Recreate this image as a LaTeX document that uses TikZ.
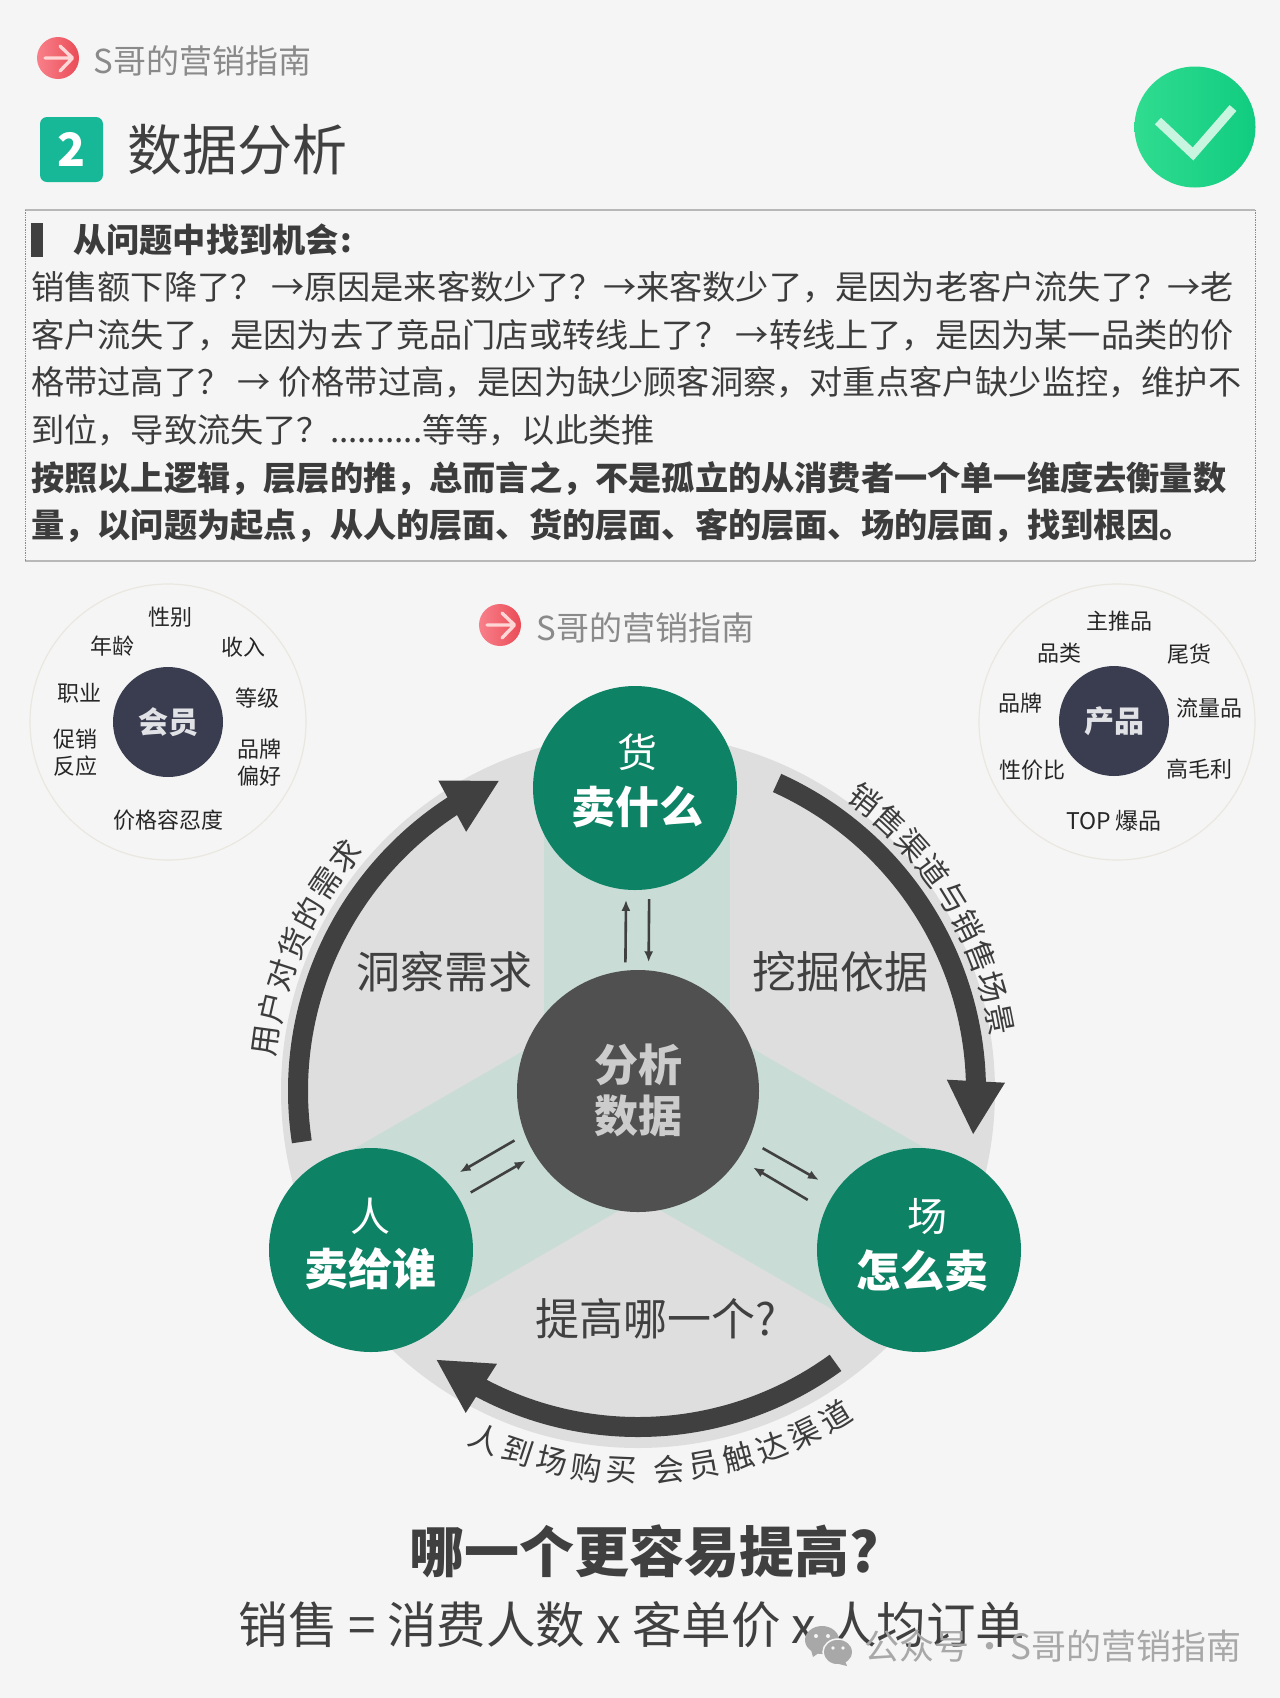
\documentclass[tikz,border=0pt]{standalone}
\usepackage{fontspec}
\setmainfont{Noto Sans CJK SC}
\usetikzlibrary{arrows.meta,calc,positioning,bending}
\definecolor{sgPaper}{HTML}{F5F5F5}
\definecolor{sgInk}{HTML}{3C3C3C}
\definecolor{sgDark}{HTML}{404040}
\definecolor{sgGreen}{HTML}{0D8265}
\definecolor{sgBand}{HTML}{C9DCD6}
\definecolor{sgDisc}{HTML}{DEDEDE}
\definecolor{sgHub}{HTML}{505050}
\definecolor{sgNavy}{HTML}{3A3D50}
\definecolor{sgRing}{HTML}{E9E7DF}
\definecolor{sgGrey}{HTML}{8A8A8A}
\definecolor{sgRedA}{HTML}{F8808A}
\definecolor{sgRedB}{HTML}{EA4C57}
\definecolor{sgPink}{HTML}{FFD6D6}
\definecolor{sgTile}{HTML}{17B897}
\definecolor{sgTickA}{HTML}{30DC90}
\definecolor{sgTickB}{HTML}{10CC80}
\definecolor{sgTickPen}{HTML}{C8F5E0}
\definecolor{sgMark}{HTML}{A8A8A8}
\newcommand{\fsz}[1]{\fontsize{#1}{#1}\selectfont}
\tikzset{
  logotext/.style={anchor=west,text=sgGrey,font=\fsz{33}},
  logodot/.style={circle,left color=sgRedA,right color=sgRedB,minimum size=42pt,inner sep=0pt},
  logopen/.style={draw=sgPink,line width=3.4pt,line cap=round,line join=round},
  bodyline/.style={anchor=west,text=sgInk,font=\fsz{33.2},inner sep=0pt},
  boldline/.style={anchor=west,text=sgInk,font=\bfseries\fsz{33.2},inner sep=0pt},
  bigdot/.style={circle,fill=sgGreen,minimum size=204pt,inner sep=0pt},
  dotthin/.style={text=white,font=\fsz{40},inner sep=0pt},
  dotbold/.style={text=white,font=\bfseries\fsz{44},inner sep=0pt},
  hubtext/.style={text=black!20,font=\bfseries\fsz{44},inner sep=0pt},
  graytag/.style={text=sgDark,font=\fsz{44},inner sep=0pt},
  ringtag/.style={text=black!85,font=\fontsize{22}{27}\selectfont,align=center,inner sep=0pt},
  ringhub/.style={circle,fill=sgNavy,minimum size=110pt,inner sep=0pt,text=white!85!sgNavy,font=\bfseries\fsz{30}},
  ringline/.style={draw=sgRing,line width=1.2pt},
  bigarc/.style={draw=sgDark,line width=20pt,-{Triangle[width=54pt,length=54pt,flex]}},
  pairarrow/.style={draw=sgDark,line width=2.6pt,-{Latex[length=11pt,width=9pt]}},
  arcchar/.style={text=sgInk,font=\fsz{31},inner sep=0pt},
  boxedge/.style={draw=black!28,line width=1.6pt},
  boxside/.style={draw=black!45,line width=.7pt,densely dotted}
}
\begin{document}
\begin{tikzpicture}[x=1pt,y=-1pt,line cap=butt,line join=miter]
\path[fill=sgPaper] (0,0) rectangle (1280,1698);
\useasboundingbox (0,0) rectangle (1280,1698);
% top logo
\node[logodot] (logoA) at (58,58) {};
\draw[logopen] (45,58) -- (71,58) (60,46) -- (72.5,58) -- (60,71);
\node[logotext] (logoAtext) at (90,61) {S哥的营销指南};
% heading
\node[fill=sgTile,rounded corners=7pt,minimum width=63pt,minimum height=65pt,inner sep=0pt,text=white,font=\bfseries\fsz{46}] (tile) at (71.5,149.5) {2};
\node[anchor=west,text=sgDark,font=\fsz{55}] (heading) at (124,150) {数据分析};
\node[circle,minimum size=121pt,inner sep=0pt,left color=sgTickA,right color=sgTickB] (tick) at (1195,127) {};
\draw[sgTickPen,line width=9pt] (1158,121) -- (1193,154) -- (1233,108);
% text box
\draw[boxedge] (25,210) -- (1255,210) (25,561) -- (1255,561);
\draw[boxside] (25,210) -- (25,561) (1255,210) -- (1255,561);
\path[fill=sgDark] (31,223) rectangle (43,257);
\node[boldline] (ln0) at (73,240) {从问题中找到机会\hspace{2pt}:};
\node[bodyline] (ln1) at (31,287) {销售额下降了？ →原因是来客数少了？→来客数少了，是因为老客户流失了？→老};
\node[bodyline] (ln2) at (31,335) {客户流失了，是因为去了竞品门店或转线上了？ →转线上了，是因为某一品类的价};
\node[bodyline] (ln3) at (31,382) {格带过高了？ → 价格带过高，是因为缺少顾客洞察，对重点客户缺少监控，维护不};
\node[bodyline] (ln4) at (31,430) {到位，导致流失了？..........等等，以此类推};
\node[boldline] (ln5) at (31,479) {按照以上逻辑，层层的推，总而言之，不是孤立的从消费者一个单一维度去衡量数};
\node[boldline] (ln6) at (31,526) {量，以问题为起点，从人的层面、货的层面、客的层面、场的层面，找到根因。};
% left ring
\draw[ringline] (168,722) circle (138);
\node[ringhub] (member) at (168,722) {会员};
\node[ringtag] at (170,617) {性别};
\node[ringtag] at (112,646) {年龄};
\node[ringtag] at (243,647) {收入};
\node[ringtag] at (79,693) {职业};
\node[ringtag] at (257,698) {等级};
\node[ringtag] at (75,753) {促销\\反应};
\node[ringtag] at (259,763) {品牌\\偏好};
\node[ringtag] at (168,820) {价格容忍度};
% right ring
\draw[ringline] (1117,722) circle (138);
\node[ringhub] (product) at (1114,721) {产品};
\node[ringtag] at (1119,621) {主推品};
\node[ringtag] at (1059,653) {品类};
\node[ringtag] at (1189,654) {尾货};
\node[ringtag] at (1020,703) {品牌};
\node[ringtag] at (1209,708) {流量品};
\node[ringtag] at (1032,770) {性价比};
\node[ringtag] at (1199,769) {高毛利};
\node[ringtag,font=\fsz{23}] at (1114,821) {TOP 爆品};
% second logo
\node[logodot] (logoB) at (500,625) {};
\draw[logopen] (487,625) -- (513,625) (502,613) -- (514.5,625) -- (502,638);
\node[logotext] (logoBtext) at (533,628) {S哥的营销指南};
% main disc
\coordinate (mid) at (638,1091);
\path[fill=sgDisc] (mid) circle (357);
\foreach \ang in {270,30,150}
  \path[fill=sgBand,rotate around={\ang-270:(mid)}] (544,1091) rectangle (730,780);
\node[bigdot] (goods) at (635,788) {};
\node[bigdot] (people) at (371,1250) {};
\node[bigdot] (scene) at (919,1250) {};
\node[circle,fill=sgHub,minimum size=242pt,inner sep=0pt] (hub) at (mid) {};
\node[dotthin] at (637,752) {货};
\node[dotbold] at (637,807) {卖什么};
\node[dotthin] at (370,1216) {人};
\node[dotbold] at (370,1269) {卖给谁};
\node[dotthin] at (927,1217) {场};
\node[dotbold] at (922,1271) {怎么卖};
\node[hubtext] at (638,1065) {分析};
\node[hubtext] at (638,1116) {数据};
\node[graytag] at (444,972) {洞察需求};
\node[graytag] at (840,972) {挖掘依据};
\node[graytag] at (656,1319) {提高哪一个?};
% pairs of small arrows
\draw[pairarrow,shorten <=8pt,shorten >=10pt] (hub.96) -- (goods.265);
\draw[pairarrow,shorten <=10pt,shorten >=8pt] (goods.278) -- (hub.85);
\draw[pairarrow,shorten <=12pt,shorten >=16pt] (hub.201) -- (people.43);
\draw[pairarrow,shorten <=13pt,shorten >=11pt] (people.30) -- (hub.212);
\draw[pairarrow,shorten <=16pt,shorten >=20pt] (hub.336) -- (scene.144);
\draw[pairarrow,shorten <=20pt,shorten >=17pt] (scene.157) -- (hub.326);
% big arcs
\draw[bigarc] ($(mid)+(-65.7:338)$) arc[start angle=-65.7,end angle=7.5,radius=338];
\draw[bigarc] ($(mid)+(54:336)$) arc[start angle=54,end angle=127,radius=336];
\draw[bigarc] ($(mid)+(171.4:340)$) arc[start angle=171.4,end angle=246,radius=340];
% texts on the arcs
\foreach \ch [count=\n from 0] in {销,售,渠,道,与,销,售,场,景}
  \node[arcchar,rotate={-(-52+\n*5.1)-90}] at ($(mid)+(-52+\n*5.1:369)$) {\ch};
\foreach \ch [count=\n from 0] in {用,户,对,货,的,需,求}
  \node[arcchar,rotate={-(187.7+\n*5.17)-90}] at ($(mid)+(187.7+\n*5.17:375)$) {\ch};
\foreach \ch/\ang in {人/113.7,到/108.39,场/103.08,购/97.77,买/92.46,会/85.29,员/79.98,触/74.67,达/69.36,渠/64.05,道/58.74}
  \node[arcchar,rotate={90-\ang}] at ($(mid)+(\ang:380)$) {\ch};
% bottom lines
\node[text=sgDark,font=\bfseries\fsz{55},inner sep=0pt] (question) at (644,1551) {哪一个更容易提高?};
\node[text=sgDark,font=\fsz{49.5},inner sep=0pt] (formula) at (632,1625) {销售 = 消费人数 x 客单价 x 人均订单};
% watermark
\path[fill=sgMark] (822,1640) ellipse (17 and 14);
\path[fill=sgMark] (811,1650) -- (813,1657) -- (820,1652) -- cycle;
\path[fill=sgMark,draw=sgPaper,line width=1.5pt] (838,1652) ellipse (15 and 13);
\path[fill=sgMark] (845,1661) -- (847,1666) -- (839,1664) -- cycle;
\path[fill=sgPaper] (816,1636) circle (2) (828,1636) circle (2) (833,1648) circle (1.8) (843,1648) circle (1.8);
\node[anchor=west,text=sgMark,font=\fsz{35},inner sep=0pt] (mark) at (864,1646) {公众号\hspace{3pt}·\hspace{3pt}S哥的营销指南};
\end{tikzpicture}
\end{document}
